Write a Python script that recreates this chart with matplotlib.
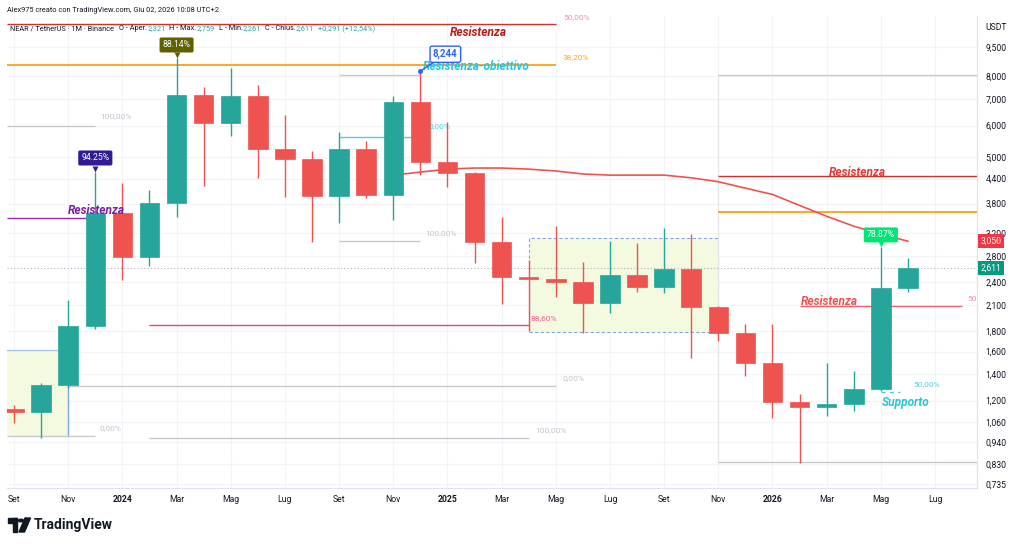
import numpy as np
import matplotlib
matplotlib.use("Agg")
import matplotlib.pyplot as plt
from matplotlib.patches import Rectangle, Polygon, Circle
from matplotlib.transforms import offset_copy

plt.rcParams['font.family'] = ['Roboto', 'DejaVu Sans']

# ---------------- data ----------------
# monthly candles, index 0 = Set 2023 ... 33 = Giu 2026
opens = [1.144, 1.123, 1.316, 1.858, 3.598, 2.782, 3.815, 7.175, 6.09, 7.13,
         5.23, 4.935, 3.975, 5.23, 3.998, 6.887, 4.849, 4.547, 3.03, 2.475,
         2.44, 2.397, 2.126, 2.504, 2.334, 2.594, 2.077, 1.784, 1.497, 1.191,
         1.157, 1.178, 1.286, 2.321]
highs = [1.170, 1.33, 2.163, 4.573, 4.29, 4.117, 8.91, 7.52, 8.40, 7.61,
         6.38, 5.17, 5.78, 5.48, 7.13, 8.244, 6.13, 4.56, 3.515, 2.734,
         3.335, 2.70, 3.055, 3.02, 3.297, 3.183, 2.09, 1.881, 1.881, 1.248,
         1.497, 1.429, 2.95, 2.759]
lows = [1.053, 0.965, 1.29, 1.82, 2.432, 2.64, 3.515, 4.21, 5.645, 4.417,
        3.952, 3.037, 3.394, 3.93, 3.454, 4.494, 4.19, 2.687, 2.114, 1.805,
        2.202, 1.784, 2.005, 2.268, 2.25, 1.541, 1.70, 1.387, 1.085, 0.834,
        1.098, 1.131, 1.27, 2.261]
closes = [1.123, 1.316, 1.858, 3.598, 2.782, 3.815, 7.175, 6.09, 7.13, 5.23,
          4.935, 3.975, 5.23, 3.998, 6.887, 4.849, 4.547, 3.03, 2.475, 2.44,
          2.397, 2.126, 2.504, 2.334, 2.594, 2.077, 1.784, 1.497, 1.191, 1.157,
          1.178, 1.286, 2.321, 2.611]

ma_start = 14
ma_values = [4.49, 4.57, 4.65, 4.68, 4.68, 4.65, 4.60, 4.52, 4.49, 4.49,
             4.49, 4.42, 4.32, 4.16, 4.01, 3.76, 3.53, 3.33, 3.18, 3.05]

month_tick_pos = [0, 2, 4, 6, 8, 10, 12, 14, 16, 18, 20, 22, 24, 26, 28, 30, 32, 34]
month_labels = ["Set", "Nov", "2024", "Mar", "Mag", "Lug", "Set", "Nov", "2025",
                "Mar", "Mag", "Lug", "Set", "Nov", "2026", "Mar", "Mag", "Lug"]
year_labels = ["2024", "2025", "2026"]

price_ticks = [9.5, 8.0, 7.0, 6.0, 5.0, 4.4, 3.8, 3.2, 2.8, 2.4, 2.1, 1.8, 1.6,
               1.4, 1.2, 1.06, 0.94, 0.83, 0.735]

last_price = 2.611
ma_last = 3.05

# drawn levels
lvl_top_res = 10.87
lvl_fib382 = 8.55
lvl_left_100 = 5.985
lvl_left_0 = 0.977
lvl_left_box_top = 1.615
lvl_mid_0 = 1.309
lvl_magenta = 1.869
lvl_mid_100 = 0.965
lvl_purple = 3.495
lvl_fib2_top = 8.06
lvl_fib2_mid = 5.61
lvl_fib2_100 = 3.055
box_top, box_bot = 3.11, 1.794
lvl_r_top = 8.06
lvl_r_res = 4.468
lvl_r_orange = 3.62
lvl_r_bottom = 0.838
lvl_res_pink = 2.089
lvl_support = 1.263
callout_high = 8.244

GREEN = '#26a69a'
RED = '#ef5350'
DARK = '#131722'

W, H = 1024, 546
fig = plt.figure(figsize=(W / 100, H / 100), dpi=100)
fig.patch.set_facecolor('white')

def fx(px):
    return px / W

def fy(py):
    return 1 - py / H

ax = fig.add_axes([fx(7), fy(488), fx(977) - fx(7), fy(16) - fy(488)])
ax.set_yscale('log')
ax.set_xlim(-0.26, 35.55)
ax.set_ylim(0.72, 11.39)

# grid
for p in price_ticks:
    ax.axhline(p, color='#f3f4f7', lw=0.8, zorder=0)
for m in month_tick_pos:
    ax.axvline(m, color='#f3f4f7', lw=0.8, zorder=0)

# ticks
ax.yaxis.tick_right()
ax.set_yticks(price_ticks)
ax.set_yticklabels([f"{p:.3f}".replace('.', ',') for p in price_ticks])
ax.yaxis.set_minor_locator(matplotlib.ticker.NullLocator())
ax.tick_params(axis='y', length=0, pad=6, labelsize=6.2, labelcolor=DARK)
ax.set_xticks(month_tick_pos)
ax.set_xticklabels(month_labels)
ax.tick_params(axis='x', length=0, pad=5, labelsize=6.2, labelcolor=DARK)
for t in ax.get_xticklabels():
    if t.get_text() in year_labels:
        t.set_fontweight('bold')
for s in ['left', 'top']:
    ax.spines[s].set_visible(False)
ax.spines['right'].set_color('#e0e3eb')
ax.spines['bottom'].set_color('#e0e3eb')

L = -0.26
R = 35.55

# left yellow box
ax.add_patch(Rectangle((L, lvl_left_0), 2.0 - L, lvl_left_box_top - lvl_left_0,
                       facecolor='#f4fadf', edgecolor='none', zorder=1))
ax.plot([L, 2.0], [lvl_left_box_top] * 2, color='#a9c4e8', lw=1, zorder=1)
ax.plot([2.0, 2.0], [lvl_left_0, lvl_mid_0], color='#7fa8e0', lw=1, zorder=1)

# central box
ax.add_patch(Rectangle((19.0, box_bot), 7.0, box_top - box_bot,
                       facecolor='#f4fadf', edgecolor='#8aa6e0', lw=0.8,
                       ls=(0, (3, 2)), zorder=1))

# horizontal levels
def hline(y, x0, x1, color, lw=1.0, ls='-', z=2):
    ax.plot([x0, x1], [y, y], color=color, lw=lw, ls=ls, zorder=z, solid_capstyle='butt')

hline(lvl_top_res, L, 20.0, '#d32f2f', 1.0)
hline(lvl_fib382, L, 20.0, '#ff9800', 1.2)
hline(lvl_left_100, L, 3.0, '#c8cad0')
hline(lvl_left_0, L, 3.0, '#c8cad0')
hline(lvl_purple, L, 3.0, '#9c27b0')
hline(lvl_mid_0, 2.0, 20.0, '#c8cad0')
hline(lvl_magenta, 5.0, 19.0, '#e040a0')
hline(lvl_mid_100, 5.0, 19.0, '#c8cad0')
hline(lvl_fib2_top, 12.0, 15.0, '#c8cad0')
hline(lvl_fib2_mid, 12.0, 15.0, '#4dd0e1')
hline(lvl_fib2_100, 12.0, 15.0, '#c8cad0')
hline(lvl_r_top, 26.0, R, '#c8cad0')
hline(lvl_r_res, 26.0, R, '#d32f2f')
hline(lvl_r_orange, 26.0, R, '#ff9800', 1.2)
hline(lvl_r_bottom, 26.0, R, '#c8cad0')
ax.plot([26.0, 26.0], [lvl_r_bottom, lvl_r_top], color='#e3e5ea', lw=0.8, zorder=1)
hline(lvl_res_pink, 29.0, 35.0, '#f06272')
hline(lvl_support, 32.0, 32.7, '#4dd0e1', 1.0, (0, (3, 3)))

# current price dotted line
ax.axhline(last_price, color='#aeb2ba', lw=0.8, ls=(0, (1, 2)), zorder=1)

# small percent labels
def small(x, y, s, color, ha='left', fs=6):
    ax.text(x, y, s, color=color, fontsize=fs, ha=ha, va='center', zorder=1.5)

small(20.27, 11.3, '50,00%', '#f48fb1')
small(20.27, 8.96, '38,20%', '#ffa726')
small(3.17, 6.33, '100,00%', '#c2c5cc')
small(3.17, 1.02, '0,00%', '#c2c5cc')
small(20.23, 1.373, '0,00%', '#c2c5cc')
small(19.23, 1.01, '100,00%', '#c2c5cc')
small(19.05, 1.95, '88,60%', '#f06292')
small(15.17, 3.20, '100,00%', '#c2c5cc')
small(15.3, 5.97, '0,00%', '#4dd0e1')
small(35.2, 2.18, '50', '#f48fb1')
small(33.2, 1.32, '50,00%', '#4dd0e1')

# MA line
ma_x = np.arange(ma_start, ma_start + len(ma_values))
ax.plot(ma_x, ma_values, color='#ef5350', lw=1.2, zorder=3)

# candles
bw = 0.72
for i, (o, h, l, c) in enumerate(zip(opens, highs, lows, closes)):
    col = GREEN if c >= o else RED
    ax.plot([i, i], [l, h], color=col, lw=1.0, zorder=4, solid_capstyle='butt')
    lo, hi = min(o, c), max(o, c)
    if hi / lo < 1.012:
        hi = lo * 1.012
    ax.add_patch(Rectangle((i - bw / 2, lo), bw, hi - lo, facecolor=col,
                           edgecolor=col, lw=0.5, zorder=5))

# callout labels
def callout(i, y, text, fc, dy=14):
    ax.annotate(text, xy=(i, y), xytext=(0, dy), textcoords='offset pixels',
                ha='center', va='center', fontsize=6.2, color='white', zorder=8,
                bbox=dict(boxstyle='round,pad=0.35,rounding_size=0.2', fc=fc, ec='none'))
    tr = offset_copy(ax.transData, fig=fig, x=0, y=3, units='dots')
    ax.plot([i], [y], marker='v', ms=5, color=fc, transform=tr, zorder=8, mec='none')

callout(3, highs[3], '94.25%', '#311b92')
callout(6, highs[6], '88.14%', '#5f6100', dy=13)
callout(32, highs[32], '78.87%', '#00e676', dy=12)

ax.annotate('8,244', xy=(15, callout_high), xytext=(25, 17), textcoords='offset pixels',
            ha='center', va='center', fontsize=7, fontweight='bold', color='#2962ff',
            zorder=9,
            bbox=dict(boxstyle='round,pad=0.3,rounding_size=0.2', fc='white', ec='#2962ff', lw=1),
            arrowprops=dict(arrowstyle='-', color='#2962ff', lw=1, shrinkA=0, shrinkB=0))
ax.plot([15], [callout_high], marker='o', ms=2.5, color='#2962ff', zorder=9)

# big italic labels
def big(x, y, s, color, ha='left'):
    ax.text(x, y, s, color=color, fontsize=8.6, fontweight='bold', fontstyle='italic',
            ha=ha, va='center', zorder=7)

big(16.1, 10.35, 'Resistenza', '#b71c1c')
big(15.1, 8.5, 'Resistenza-obiettivo', '#26c6da')
big(2.0, 3.66, 'Resistenza', '#7b1fa2')
big(30.1, 4.57, 'Resistenza', '#e53935')
big(29.05, 2.14, 'Resistenza', '#ef5350')
big(32.05, 1.186, 'Supporto', '#26c6da')

# price labels on axis
yt = ax.get_yaxis_transform()
ax.text(1.0035, ma_last, '3,050', transform=yt, fontsize=6.2, color='white', ha='left',
        va='center', zorder=10, clip_on=False,
        bbox=dict(boxstyle='square,pad=0.3', fc='#f23645', ec='none'))
ax.text(1.0035, last_price, '2,611', transform=yt, fontsize=6.2, color='white', ha='left',
        va='center', zorder=10, clip_on=False,
        bbox=dict(boxstyle='square,pad=0.3', fc='#089981', ec='none'))

# header texts
fig.text(fx(7), fy(10), 'Alex975 creato con TradingView.com, Giu 02, 2026 10:08 UTC+2',
         fontsize=5.3, color=DARK, va='center')
renderer = fig.canvas.get_renderer()
hy = fy(29)
parts = [('NEAR / TetherUS · 1M · Binance', DARK, 5), ('O - Aper.', DARK, 0),
         ('2,321', GREEN, 4), ('H - Max.', DARK, 0), ('2,759', GREEN, 4),
         ('L - Min.', DARK, 0), ('2,261', GREEN, 4), ('C - Chius.', DARK, 0),
         ('2,611', GREEN, 4), ('+0,291 (+12,54%)', GREEN, 0)]
xpos = 10.0
for s, c, gap in parts:
    t = fig.text(fx(xpos), hy, s, fontsize=5.3, color=c, va='center')
    bb = t.get_window_extent(renderer)
    xpos += bb.width + gap
fig.text(fx(985), fy(28), 'USDT', fontsize=6.2, color=DARK, va='center')

# TradingView logo
fig.patches.append(Rectangle((fx(8), fy(523)), fx(17) - fx(8), fy(518) - fy(523),
                             transform=fig.transFigure, color=DARK))
fig.patches.append(Rectangle((fx(12.5), fy(532)), fx(17) - fx(12.5), fy(518) - fy(532),
                             transform=fig.transFigure, color=DARK))
fig.patches.append(Circle((fx(21), fy(520.5)), fx(2.4), transform=fig.transFigure,
                          color=DARK))
fig.patches.append(Polygon([(fx(25), fy(518)), (fx(30.5), fy(518)), (fx(24.5), fy(532)),
                            (fx(19), fy(532))], closed=True, transform=fig.transFigure,
                           color=DARK))
fig.text(fx(34), fy(525), 'TradingView', fontsize=10, fontweight='bold', color=DARK,
         va='center')

fig.savefig('out.png', dpi=100, facecolor='white')
